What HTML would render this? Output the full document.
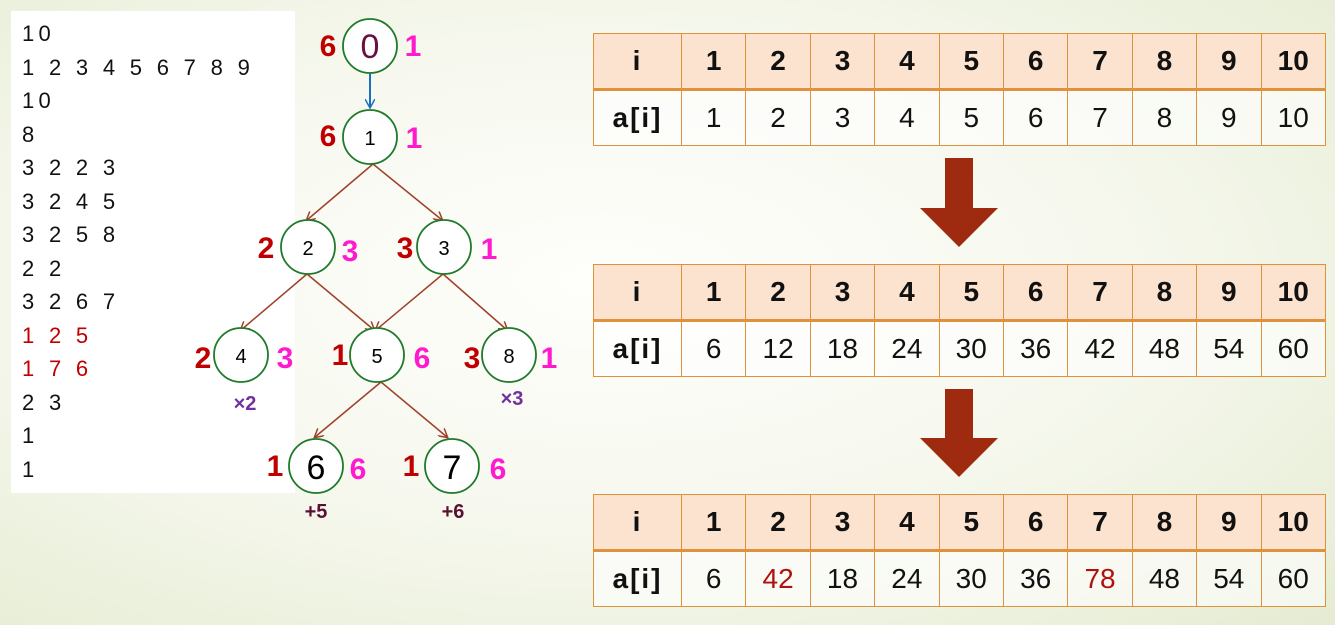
<!DOCTYPE html>
<html><head><style>
body{margin:0;width:1335px;height:625px;overflow:hidden;background:radial-gradient(ellipse at 45% 45%,#fefefb 0%,#f6f8ee 50%,#e5ecd2 100%);font-family:"Liberation Sans","Noto Sans CJK SC",sans-serif;position:relative}
.panel{position:absolute;left:11px;top:11px;width:284px;height:482px;background:#fff}
.panel div{position:absolute;left:11px;font-size:22px;letter-spacing:4.3px;color:#111}
table{position:absolute;left:593px;width:732px;table-layout:fixed;border-collapse:collapse;font-family:"Liberation Sans","Noto Sans CJK SC",sans-serif}
td{border:1.5px solid #e0913c;text-align:center;font-size:28px;height:54px;padding:0;color:#111}
td:first-child{letter-spacing:2px}
tr.h td{background:#fbe3cf;font-weight:bold;border-bottom:3px solid #e0913c}
tr.d td{background:rgba(255,255,255,0.6)}
.r{color:#b01010}
</style></head><body>
<div class="panel">
<div style="top:10px">10</div>
<div style="top:44px">1 2 3 4 5 6 7 8 9</div>
<div style="top:77px">10</div>
<div style="top:111px">8</div>
<div style="top:144px">3 2 2 3</div>
<div style="top:178px">3 2 4 5</div>
<div style="top:211px">3 2 5 8</div>
<div style="top:245px">2 2</div>
<div style="top:278px">3 2 6 7</div>
<div style="top:312px;color:#c00000">1 2 5</div>
<div style="top:345px;color:#c00000">1 7 6</div>
<div style="top:379px">2 3</div>
<div style="top:412px">1</div>
<div style="top:446px">1</div>
</div>
<svg style="position:absolute;left:0;top:0" width="1335" height="625">
<defs><marker id="a" markerWidth="10" markerHeight="10" refX="8" refY="5" orient="auto" markerUnits="userSpaceOnUse"><path d="M0,0 L9,5 L0,10" fill="none" stroke="#a0402a" stroke-width="1.5"/></marker>
<marker id="b" markerWidth="10" markerHeight="10" refX="8" refY="5" orient="auto" markerUnits="userSpaceOnUse"><path d="M0,0 L9,5 L0,10" fill="none" stroke="#1a70c0" stroke-width="1.5"/></marker></defs>
<line x1="370" y1="73" x2="370" y2="107" stroke="#1a70c0" stroke-width="2" marker-end="url(#b)"/>
<g stroke="#a0402a" stroke-width="1.5" marker-end="url(#a)">
<line x1="373" y1="164" x2="307" y2="220"/><line x1="373" y1="164" x2="442" y2="220"/>
<line x1="307" y1="274" x2="241" y2="330"/><line x1="307" y1="274" x2="374" y2="330"/>
<line x1="443" y1="274" x2="376" y2="330"/><line x1="443" y1="274" x2="507" y2="330"/>
<line x1="381" y1="382" x2="315" y2="437"/><line x1="381" y1="382" x2="447" y2="437"/>
</g>
<g fill="#fff" stroke="#1f7a2a" stroke-width="1.8">
<circle cx="370" cy="46" r="27"/><circle cx="370" cy="137" r="27"/>
<circle cx="308" cy="247" r="27"/><circle cx="444" cy="247" r="27"/>
<circle cx="241" cy="355" r="27"/><circle cx="377" cy="355" r="27"/><circle cx="509" cy="355" r="27"/>
<circle cx="316" cy="466" r="27"/><circle cx="452" cy="466" r="27"/>
</g>
<g font-family="Liberation Sans" text-anchor="middle">
<text x="370" y="58" font-size="34" fill="#6a1040">0</text>
<text x="370" y="145" font-size="20">1</text>
<text x="308" y="255" font-size="20">2</text><text x="444" y="255" font-size="20">3</text>
<text x="241" y="363" font-size="20">4</text><text x="377" y="363" font-size="20">5</text><text x="509" y="363" font-size="20">8</text>
<text x="316" y="479" font-size="34">6</text><text x="452" y="479" font-size="34">7</text>
</g>
<g font-family="Liberation Sans" font-weight="bold" font-size="30" text-anchor="middle">
<g fill="#c00000">
<text x="328" y="56">6</text><text x="328" y="146">6</text>
<text x="266" y="258">2</text><text x="405" y="258">3</text>
<text x="203" y="368">2</text><text x="340" y="365">1</text><text x="472" y="368">3</text>
<text x="275" y="476">1</text><text x="411" y="476">1</text></g>
<g fill="#ff1ad0">
<text x="413" y="56">1</text><text x="414" y="148">1</text>
<text x="350" y="261">3</text><text x="489" y="259">1</text>
<text x="285" y="368">3</text><text x="422" y="368">6</text><text x="549" y="368">1</text>
<text x="358" y="479">6</text><text x="498" y="479">6</text></g>
<g font-size="20" fill="#7030a0"><text x="245" y="410">×2</text><text x="512" y="405">×3</text></g>
<g font-size="20" fill="#5a1030"><text x="316" y="518">+5</text><text x="453" y="518">+6</text></g>
</g>
<g fill="#9e2a10">
<path d="M945,158 H973 V208 H998 L959,247 L920,208 H945 Z"/>
<path d="M945,389 H973 V438 H998 L959,477 L920,438 H945 Z"/>
</g>
</svg>
<table style="top:33px"><colgroup><col style="width:88px"><col span="10" style="width:64.4px"></colgroup><tr class="h"><td>i</td><td>1</td><td>2</td><td>3</td><td>4</td><td>5</td><td>6</td><td>7</td><td>8</td><td>9</td><td>10</td></tr>
<tr class="d"><td><b>a[i]</b></td><td>1</td><td>2</td><td>3</td><td>4</td><td>5</td><td>6</td><td>7</td><td>8</td><td>9</td><td>10</td></tr></table>
<table style="top:264px"><colgroup><col style="width:88px"><col span="10" style="width:64.4px"></colgroup><tr class="h"><td>i</td><td>1</td><td>2</td><td>3</td><td>4</td><td>5</td><td>6</td><td>7</td><td>8</td><td>9</td><td>10</td></tr>
<tr class="d"><td><b>a[i]</b></td><td>6</td><td>12</td><td>18</td><td>24</td><td>30</td><td>36</td><td>42</td><td>48</td><td>54</td><td>60</td></tr></table>
<table style="top:494px"><colgroup><col style="width:88px"><col span="10" style="width:64.4px"></colgroup><tr class="h"><td>i</td><td>1</td><td>2</td><td>3</td><td>4</td><td>5</td><td>6</td><td>7</td><td>8</td><td>9</td><td>10</td></tr>
<tr class="d"><td><b>a[i]</b></td><td>6</td><td class="r">42</td><td>18</td><td>24</td><td>30</td><td>36</td><td class="r">78</td><td>48</td><td>54</td><td>60</td></tr></table>
</body></html>
